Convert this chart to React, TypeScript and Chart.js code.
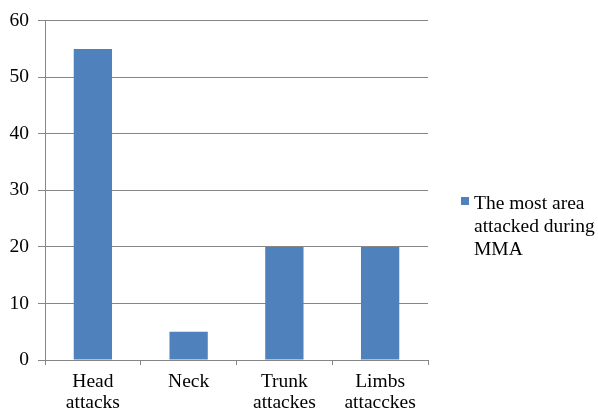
import React, { useEffect, useRef } from "react";
import { Chart, registerables } from "chart.js";

Chart.register(...registerables);

const categories: string[][] = [
  ["Head", "attacks"],
  ["Neck"],
  ["Trunk", "attackes"],
  ["Limbs", "attacckes"],
];
const seriesLabel = "The most area attacked during MMA";
const legendLines = ["The most area", "attacked during", "MMA"];
const values = [55, 5, 20, 20];
const yMin = 0;
const yMax = 60;
const yStep = 10;

const BAR_COLOR = "#4f81bd";
const GRID_COLOR = "#868686";
const FONT = "Liberation Serif";

export default function App() {
  const ref = useRef<HTMLCanvasElement | null>(null);

  useEffect(() => {
    if (!ref.current) return;
    Chart.defaults.font.family = FONT;
    const chart = new Chart(ref.current, {
      type: "bar",
      data: {
        labels: categories,
        datasets: [
          {
            label: seriesLabel,
            data: values,
            backgroundColor: BAR_COLOR,
            borderWidth: 0,
            categoryPercentage: 1,
            barPercentage: 0.4,
          },
        ],
      },
      options: {
        animation: false,
        responsive: false,
        maintainAspectRatio: false,
        devicePixelRatio: 1,
        font: { family: FONT },
        layout: { padding: { top: 17, right: 170, bottom: 0, left: 0 } },
        plugins: {
          legend: { display: false },
          tooltip: { enabled: false },
        },
        scales: {
          x: {
            offset: true,
            grid: {
              offset: true,
              drawOnChartArea: false,
              drawTicks: true,
              tickLength: 5,
              color: GRID_COLOR,
              lineWidth: 1,
            },
            border: { display: true, color: GRID_COLOR, width: 1 },
            ticks: {
              color: "#000",
              padding: 6,
              maxRotation: 0,
              autoSkip: false,
              font: { family: FONT, size: 19.5, lineHeight: 1.1 },
            },
            afterFit: (scale: any) => {
              scale.height = 54;
            },
          },
          y: {
            min: yMin,
            max: yMax,
            grid: {
              color: GRID_COLOR,
              lineWidth: 1,
              drawTicks: true,
              tickLength: 7,
            },
            border: { display: true, color: GRID_COLOR, width: 1 },
            ticks: {
              stepSize: yStep,
              color: "#000",
              padding: 9,
              font: { family: FONT, size: 19.5 },
            },
            afterFit: (scale: any) => {
              scale.width = 45;
            },
          },
        },
      },
    });
    return () => chart.destroy();
  }, []);

  return (
    <div
      style={{
        position: "absolute",
        left: 0,
        top: 0,
        width: 598,
        height: 414,
        background: "#fff",
        overflow: "hidden",
      }}
    >
      <canvas ref={ref} width={598} height={414} style={{ display: "block" }} />
      <div
        style={{
          position: "absolute",
          left: 461,
          top: 197,
          width: 8,
          height: 8,
          background: BAR_COLOR,
        }}
      />
      <div
        style={{
          position: "absolute",
          left: 474,
          top: 191,
          fontFamily: FONT,
          fontSize: 19.5,
          lineHeight: "23px",
          color: "#000",
          whiteSpace: "nowrap",
        }}
      >
        {legendLines.map((l, i) => (
          <div key={i}>{l}</div>
        ))}
      </div>
    </div>
  );
}
